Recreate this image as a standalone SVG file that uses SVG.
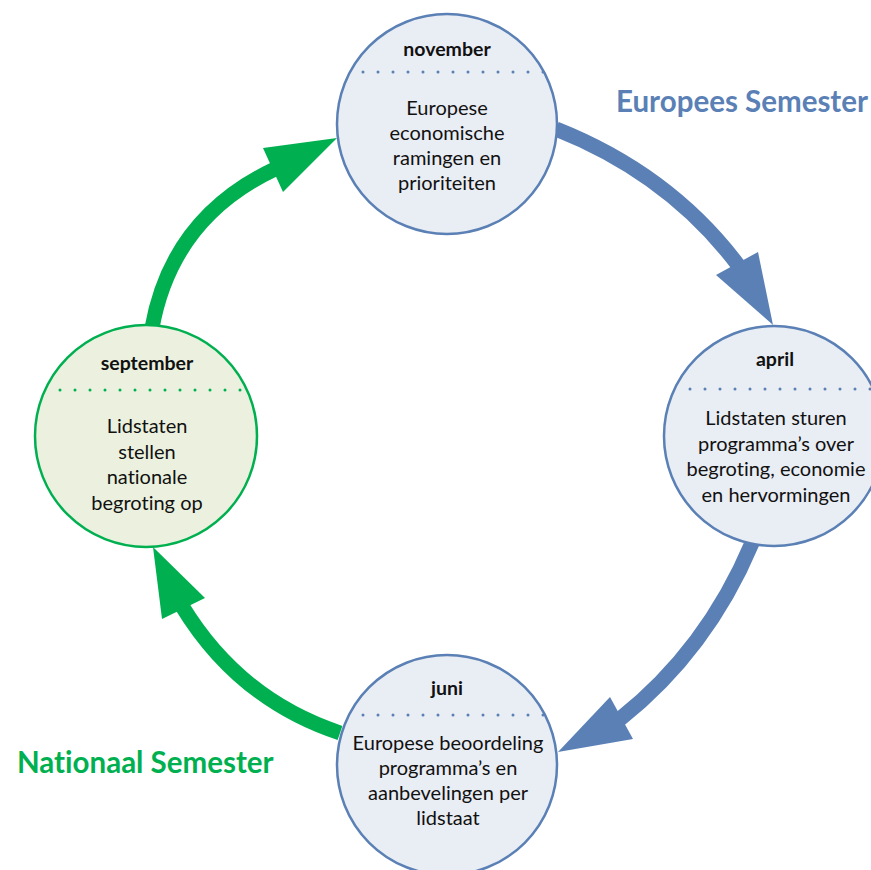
<svg xmlns="http://www.w3.org/2000/svg" width="871" height="870" viewBox="0 0 871 870">
<style>
text{font-variant-ligatures:none;font-feature-settings:"liga" 0,"clig" 0}
.body{font-family:Lato,"Liberation Sans",sans-serif;font-size:20px;fill:#111;text-anchor:middle}
.lbl{font-family:Lato,"Liberation Sans",sans-serif;font-size:19.5px;font-weight:bold;fill:#111;text-anchor:middle}
.title{font-family:Lato,"Liberation Sans",sans-serif;font-size:29.5px;font-weight:bold}
.bc{fill:#e9edf4;stroke:#5a80b5;stroke-width:2.5}
.gc{fill:#ebf1de;stroke:#00b050;stroke-width:2.5}
.bd{stroke:#5a80b5;stroke-width:3;stroke-linecap:round;stroke-dasharray:0 15}
.gd{stroke:#00b050;stroke-width:3;stroke-linecap:round;stroke-dasharray:0 15}
.bband{fill:none;stroke:#5a80b5;stroke-width:15}
.gband{fill:none;stroke:#00b050;stroke-width:15}
</style>
<rect width="871" height="870" fill="#fff"/>
<g id="connectors">
<path class="bband" d="M556,129 Q669.5,174 738,265"/>
<polygon fill="#5a80b5" points="716,275 758,252 773,325"/>
<path class="bband" d="M752,543 Q707,650 620,719"/>
<polygon fill="#5a80b5" points="610,697 633,739 558,752"/>
<path class="gband" d="M340,733 Q238.9,699.5 182,606"/>
<polygon fill="#00b050" points="162,619 205,598 153,547"/>
<path class="gband" d="M152,328 Q171.7,217.8 275,169"/>
<polygon fill="#00b050" points="263,148 283,192 337,138"/>
</g>
<g id="title-europees"><text class="title" x="616" y="112" fill="#5a80b5">Europees Semester</text></g>
<g id="title-nationaal"><text class="title" x="17" y="773" fill="#00b050">Nationaal Semester</text></g>
<g id="node-november">
<circle class="bc" cx="447" cy="124" r="110"/>
<text class="lbl" x="447" y="56">november</text>
<line class="bd" x1="363" y1="72" x2="544" y2="72"/>
<text class="body" x="447" y="115">Europese</text>
<text class="body" x="447" y="140">economische</text>
<text class="body" x="447" y="165">ramingen en</text>
<text class="body" x="447" y="190">prioriteiten</text>
</g>
<g id="node-april">
<circle class="bc" cx="774" cy="436" r="110"/>
<text class="lbl" x="775" y="366">april</text>
<line class="bd" x1="690" y1="389" x2="871" y2="389"/>
<text class="body" x="776" y="425">Lidstaten sturen</text>
<text class="body" x="776" y="450.5">programma’s over</text>
<text class="body" x="776" y="476">begroting, economie</text>
<text class="body" x="776" y="501.5">en hervormingen</text>
</g>
<g id="node-juni">
<circle class="bc" cx="447" cy="765" r="110"/>
<text class="lbl" x="447" y="695">juni</text>
<line class="bd" x1="363" y1="715" x2="544" y2="715"/>
<text class="body" x="448" y="749.5">Europese beoordeling</text>
<text class="body" x="448" y="775">programma’s en</text>
<text class="body" x="448" y="800">aanbevelingen per</text>
<text class="body" x="448" y="825">lidstaat</text>
</g>
<g id="node-september">
<circle class="gc" cx="146" cy="436" r="111"/>
<text class="lbl" x="147" y="370">september</text>
<line class="gd" x1="60" y1="390" x2="241" y2="390"/>
<text class="body" x="147" y="433">Lidstaten</text>
<text class="body" x="147" y="458.5">stellen</text>
<text class="body" x="147" y="484">nationale</text>
<text class="body" x="147" y="509.5">begroting op</text>
</g>
</svg>
